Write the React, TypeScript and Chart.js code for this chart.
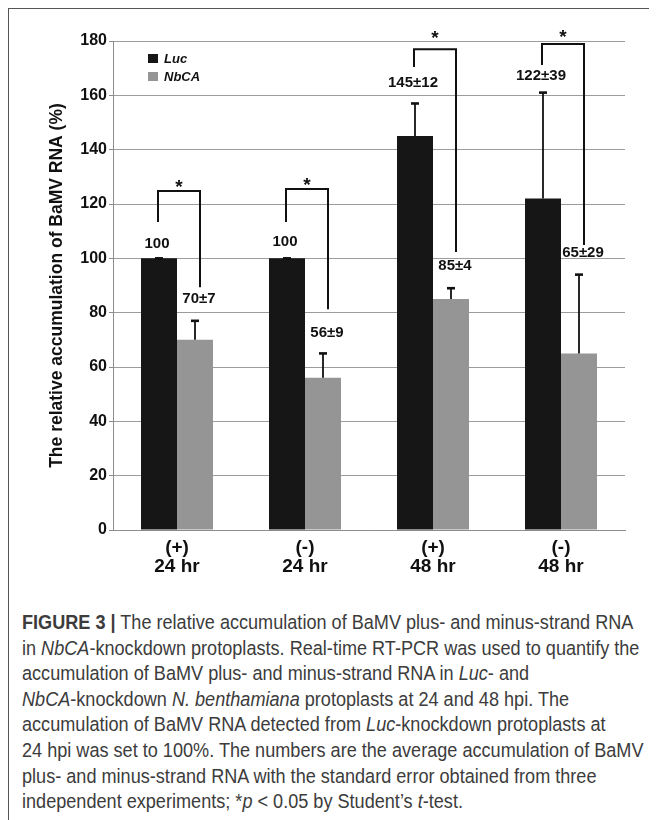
import React, { useEffect, useRef } from "react";
import { Chart, registerables } from "chart.js";

Chart.register(...registerables);

// ---- data ----
const groupTop = ["(+)", "(-)", "(+)", "(-)"];
const groupBottom = ["24 hr", "24 hr", "48 hr", "48 hr"];
const seriesNames = ["Luc", "NbCA"];
const lucValues = [100, 100, 145, 122];
const lucErrors = [0, 0, 12, 39];
const nbcaValues = [70, 56, 85, 65];
const nbcaErrors = [7, 9, 4, 29];
const lucLabels = ["100", "100", "145\u00b112", "122\u00b139"];
const nbcaLabels = ["70\u00b17", "56\u00b19", "85\u00b14", "65\u00b129"];
// annotation heights (data units)
const lucLabelAt = [105.5, 106, 164.5, 167.3];
const nbcaLabelAt = [85, 72.5, 97.2, 102];
const bracketTopAt = [124.8, 125.5, 177, 178.9];
const bracketLeftEndAt = [113.4, 113.4, 170.4, 171.2];
const bracketRightEndAt = [89.4, 81.3, 102.3, 104.9];
const starAt = [128.2, 128.8, 182.9, 183.3];
const yTicks = [0, 20, 40, 60, 80, 100, 120, 140, 160, 180];

const BLACK = "#161616";
const GRAY = "#959595";
const INK = "#111111";

const annotationPlugin = {
  id: "annotations",
  afterDatasetsDraw(chart: any) {
    const ctx = chart.ctx;
    const y = chart.scales.y;
    const area = chart.chartArea;
    const m0 = chart.getDatasetMeta(0);
    const m1 = chart.getDatasetMeta(1);
    const errs = [lucErrors, nbcaErrors];
    const vals = [lucValues, nbcaValues];
    ctx.save();
    ctx.strokeStyle = INK;
    ctx.fillStyle = INK;
    // error bars
    [m0, m1].forEach((meta: any, di: number) => {
      meta.data.forEach((bar: any, i: number) => {
        const x = bar.x;
        const top = y.getPixelForValue(vals[di][i] + errs[di][i]);
        ctx.lineWidth = 1.8;
        ctx.beginPath();
        ctx.moveTo(x, bar.y);
        ctx.lineTo(x, top);
        ctx.stroke();
        ctx.lineWidth = 2.6;
        ctx.beginPath();
        ctx.moveTo(x - 4, top);
        ctx.lineTo(x + 4, top);
        ctx.stroke();
      });
    });
    // brackets, stars and value labels
    ctx.lineWidth = 2;
    ctx.textAlign = "center";
    for (let i = 0; i < lucValues.length; i++) {
      const xl = m0.data[i].x - 1;
      const xr = m1.data[i].x + 5;
      ctx.beginPath();
      ctx.moveTo(xl, y.getPixelForValue(bracketLeftEndAt[i]));
      ctx.lineTo(xl, y.getPixelForValue(bracketTopAt[i]));
      ctx.lineTo(xr, y.getPixelForValue(bracketTopAt[i]));
      ctx.lineTo(xr, y.getPixelForValue(bracketRightEndAt[i]));
      ctx.stroke();
      ctx.font = "bold 19px 'Liberation Sans', Arial, sans-serif";
      ctx.textBaseline = "alphabetic";
      ctx.fillText("*", (xl + xr) / 2, y.getPixelForValue(starAt[i]) + 11);
      ctx.font = "bold 15px 'Liberation Sans', Arial, sans-serif";
      ctx.textBaseline = "middle";
      ctx.fillText(lucLabels[i], m0.data[i].x - 2, y.getPixelForValue(lucLabelAt[i]));
      ctx.fillText(nbcaLabels[i], xr - 1, y.getPixelForValue(nbcaLabelAt[i]));
    }
    // legend
    const lx = area.left + 35;
    const ly = area.top + 13;
    const colors = [BLACK, GRAY];
    ctx.textAlign = "left";
    ctx.textBaseline = "alphabetic";
    ctx.font = "italic bold 13px 'Liberation Sans', Arial, sans-serif";
    seriesNames.forEach((name, k) => {
      ctx.fillStyle = colors[k];
      ctx.fillRect(lx, ly + k * 18, 10, 9);
      ctx.fillStyle = INK;
      ctx.fillText(name, lx + 16, ly + 9 + k * 18);
    });
    ctx.restore();
  },
};

function BarChart() {
  const ref = useRef<HTMLCanvasElement>(null);
  useEffect(() => {
    if (!ref.current) return;
    const chart = new Chart(ref.current, {
      type: "bar",
      data: {
        labels: groupTop.map((t, i) => [t, groupBottom[i]]),
        datasets: [
          {
            label: seriesNames[0],
            data: lucValues,
            backgroundColor: BLACK,
            categoryPercentage: 0.5625,
            barPercentage: 1,
          },
          {
            label: seriesNames[1],
            data: nbcaValues,
            backgroundColor: GRAY,
            categoryPercentage: 0.5625,
            barPercentage: 1,
          },
        ],
      },
      options: {
        animation: false,
        responsive: false,
        maintainAspectRatio: false,
        events: [],
        layout: { padding: { top: 32, right: 32, left: 0, bottom: 0 } },
        plugins: {
          legend: { display: false },
          title: { display: false },
          tooltip: { enabled: false },
        },
        scales: {
          x: {
            grid: { display: false, drawTicks: false },
            border: { display: true, color: "#8c8c8c", width: 1 },
            ticks: {
              color: INK,
              padding: 8,
              font: { family: "'Liberation Sans', Arial, sans-serif", size: 19, weight: "bold", lineHeight: 1.0 },
              maxRotation: 0,
              autoSkip: false,
            },
            afterFit(scale: any) {
              scale.height = 79;
            },
          },
          y: {
            min: 0,
            max: 180,
            afterBuildTicks(scale: any) {
              scale.ticks = yTicks.map((v) => ({ value: v }));
            },
            grid: { color: "#9c9c9c", lineWidth: 1, tickLength: 4, drawTicks: true, tickColor: "#8c8c8c" },
            border: { display: true, color: "#8c8c8c", width: 1 },
            ticks: {
              color: INK,
              padding: 2,
              font: { family: "'Liberation Sans', Arial, sans-serif", size: 16, weight: "bold" },
            },
            title: {
              display: true,
              text: "The relative accumulation of BaMV RNA (%)",
              color: INK,
              font: { family: "'Liberation Sans', Arial, sans-serif", size: 17.5, weight: "bold", lineHeight: 1.2 },
              padding: { top: 38, bottom: 0 },
            },
            afterFit(scale: any) {
              scale.width = 104;
            },
          },
        },
      },
      plugins: [annotationPlugin],
    });
    return () => chart.destroy();
  }, []);
  return <canvas ref={ref} width={648} height={600} style={{ position: "absolute", left: 0, top: 0, width: 648, height: 600 }} />;
}

const captionStyle: React.CSSProperties = {
  position: "absolute",
  left: 13,
  top: 600,
  fontFamily: "'Liberation Sans', Arial, sans-serif",
  fontSize: 20.5,
  lineHeight: "25.6px",
  color: "#3c3c3c",
  whiteSpace: "nowrap",
  transform: "scaleX(0.883)",
  transformOrigin: "0 0",
};

export default function App() {
  useEffect(() => {
    document.documentElement.style.overflow = "hidden";
    document.body.style.overflow = "hidden";
  }, []);
  return (
    <div
      style={{
        position: "relative",
        left: -1,
        top: -1,
        width: 650,
        height: 816,
        borderTop: "2px solid #555",
        borderLeft: "2px solid #555",
        boxSizing: "border-box",
        overflow: "hidden",
      }}
    >
      <BarChart />
      <div style={captionStyle}>
        <b>FIGURE 3 |</b> The relative accumulation of BaMV plus- and minus-strand RNA
        <br />
        in <i>NbCA</i>-knockdown protoplasts. Real-time RT-PCR was used to quantify the
        <br />
        accumulation of BaMV plus- and minus-strand RNA in <i>Luc</i>- and
        <br />
        <i>NbCA</i>-knockdown <i>N. benthamiana</i> protoplasts at 24 and 48 hpi. The
        <br />
        accumulation of BaMV RNA detected from <i>Luc</i>-knockdown protoplasts at
        <br />
        24 hpi was set to 100%. The numbers are the average accumulation of BaMV
        <br />
        plus- and minus-strand RNA with the standard error obtained from three
        <br />
        independent experiments; *<i>p</i> &lt; 0.05 by Student’s <i>t</i>-test.
      </div>
    </div>
  );
}
